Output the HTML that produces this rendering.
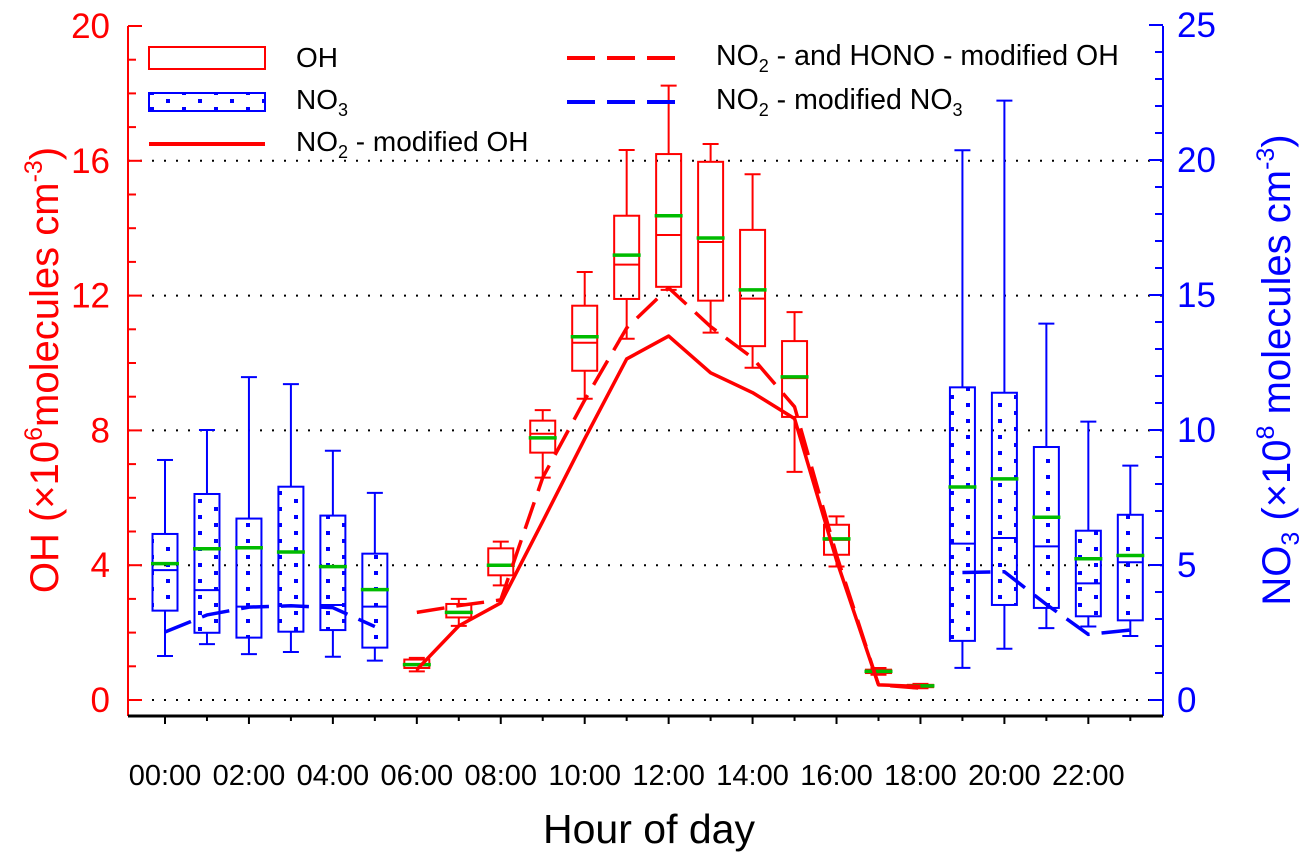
<!DOCTYPE html>
<html><head><meta charset="utf-8"><style>
body{margin:0;background:#fff;}
svg{font-family:"Liberation Sans",sans-serif;display:block;}
</style></head><body>
<svg id="chart" width="1312" height="863" viewBox="0 0 1312 863">
<defs>
<pattern id="dots" width="32" height="16" patternUnits="userSpaceOnUse">
<rect x="6" y="3" width="4" height="4" fill="#0000ff"/><rect x="22" y="11" width="4" height="4" fill="#0000ff"/>
</pattern>
</defs>
<g id="grid"></g>
<g id="marks"></g>
<g id="axes"></g>
<g id="legend">
<rect x="149" y="47" width="116" height="22" fill="none" stroke="#ff0000" stroke-width="2"/>
<text x="296" y="67" font-size="28">OH</text>
<rect x="149" y="93" width="116" height="18" fill="url(#dots)" stroke="#0000ff" stroke-width="2"/>
<text x="296" y="109" font-size="28">NO<tspan font-size="18" dy="7">3</tspan></text>
<line x1="149" y1="144" x2="265" y2="144" stroke="#ff0000" stroke-width="4"/>
<text x="296" y="151" font-size="28">NO<tspan font-size="18" dy="7">2</tspan><tspan dy="-7"> - modified OH</tspan></text>
<line x1="567" y1="58" x2="682" y2="58" stroke="#ff0000" stroke-width="4" stroke-dasharray="28,12"/>
<text x="716" y="65" font-size="28.5">NO<tspan font-size="18" dy="7">2</tspan><tspan dy="-7"> - and HONO - modified OH</tspan></text>
<line x1="567" y1="102" x2="682" y2="102" stroke="#0000ff" stroke-width="4" stroke-dasharray="28,12"/>
<text x="716" y="109" font-size="28.5">NO<tspan font-size="18" dy="7">2</tspan><tspan dy="-7"> - modified NO</tspan><tspan font-size="18" dy="7">3</tspan></text>
</g>
<text x="649" y="843" font-size="41" text-anchor="middle">Hour of day</text>
<text transform="translate(58,370) rotate(-90)" font-size="40" fill="#ff0000" text-anchor="middle">OH (×10<tspan font-size="25" dy="-16">6</tspan><tspan dy="16">molecules cm</tspan><tspan font-size="25" dy="-16">-3</tspan><tspan dy="16">)</tspan></text>
<text transform="translate(1290,370) rotate(-90)" font-size="40" fill="#0000ff" text-anchor="middle">NO<tspan font-size="25" dy="9">3</tspan><tspan dy="-9"> (×10</tspan><tspan font-size="25" dy="-16">8</tspan><tspan dy="16"> molecules cm</tspan><tspan font-size="25" dy="-16">-3</tspan><tspan dy="16">)</tspan></text>
</svg>
<script>
// OH boxes (left axis, 1e6)
const ohHours=[6,7,8,9,10,11,12,13,14,15,16,17,18];
const ohWhiskTop=[1.25,3.0,4.7,8.6,12.7,16.32,18.23,16.5,15.6,11.51,5.45,0.95,0.48];
const ohQ3=[1.2,2.85,4.5,8.29,11.7,14.37,16.2,15.97,13.95,10.65,5.2,0.9,0.45];
const ohMedian=[1.05,2.6,4.0,7.9,10.6,12.92,13.8,13.59,11.91,9.55,4.75,0.85,0.42];
const ohMean=[1.05,2.6,4.0,7.78,10.78,13.2,14.37,13.71,12.17,9.59,4.78,0.85,0.42];
const ohQ1=[0.95,2.45,3.7,7.34,9.77,11.9,12.26,11.85,10.5,8.4,4.31,0.8,0.38];
const ohWhiskBot=[0.85,2.2,3.4,6.6,8.94,10.72,12.17,10.9,9.86,6.77,3.96,0.75,0.35];
// NO3 boxes (right axis, 1e8)
const noHours=[0,1,2,3,4,5,19,20,21,22,23];
const noWhiskTop=[8.89,10.0,11.96,11.7,9.23,7.67,20.36,22.2,13.94,10.31,8.68];
const noQ3=[6.15,7.63,6.72,7.9,6.83,5.42,11.58,11.38,9.37,6.27,6.86];
const noMedian=[4.81,4.07,3.46,3.49,3.52,3.46,5.79,6.0,5.69,4.32,5.1];
const noMean=[5.05,5.6,5.64,5.48,4.94,4.09,7.89,8.19,6.77,5.23,5.35];
const noQ1=[3.31,2.49,2.31,2.53,2.59,1.94,2.19,3.52,3.41,3.1,2.95];
const noWhiskBot=[1.63,2.07,1.7,1.78,1.6,1.46,1.19,1.9,2.66,2.72,2.37];
// Model lines
const lineHours=[6,7,8,9,10,11,12,13,14,15,16,17,18];
const no2OH=[0.9,2.2,2.88,5.3,7.75,10.12,10.8,9.71,9.12,8.35,4.15,0.45,0.4];
const honoOH=[2.6,2.8,2.97,6.6,8.9,11.04,12.23,11.08,10.15,8.7,4.3,0.45,0.35];
const no3Hours1=[0,1,2,3,4,5];
const no3Line1=[2.52,3.15,3.44,3.49,3.42,2.72];
const no3Hours2=[19,20,21,22,23];
const no3Line2=[4.72,4.75,3.54,2.43,2.59];
const leftTicks=[0,4,8,12,16,20];
const rightTicks=[0,5,10,15,20,25];
const xLabels=["00:00","02:00","04:00","06:00","08:00","10:00","12:00","14:00","16:00","18:00","20:00","22:00"];

const NS="http://www.w3.org/2000/svg";
const X0=128,X1=1163,YB=700,YT=26;
const xs=h=>165+41.97*h;
const yl=v=>YB-(YB-YT)*v/20;
const yr=v=>YB-(YB-25)*v/25;
function mk(parent,tag,attrs){const e=document.createElementNS(NS,tag);for(const k in attrs)e.setAttribute(k,attrs[k]);parent.appendChild(e);return e;}
const grid=document.getElementById('grid'),marks=document.getElementById('marks'),axes=document.getElementById('axes');

leftTicks.slice(0,5).forEach(v=>{
 const g=mk(grid,'line',{x1:X0,x2:X1,y1:yl(v),y2:yl(v),stroke:'#000','stroke-width':2,'stroke-dasharray':'2,10'});
 
 
});

function box(h,wt,q3,md,mn,q1,wb,yf,col,fill,name){
 const g=mk(marks,'g',{});
 
 
 const cx=xs(h),w=25;
 mk(g,'line',{x1:cx,x2:cx,y1:yf(wt),y2:yf(q3),stroke:col,'stroke-width':2});
 mk(g,'line',{x1:cx,x2:cx,y1:yf(q1),y2:yf(wb),stroke:col,'stroke-width':2});
 mk(g,'line',{x1:cx-8,x2:cx+8,y1:yf(wt),y2:yf(wt),stroke:col,'stroke-width':2});
 mk(g,'line',{x1:cx-8,x2:cx+8,y1:yf(wb),y2:yf(wb),stroke:col,'stroke-width':2});
 mk(g,'rect',{x:cx-w/2,y:yf(q3),width:w,height:Math.max(1,yf(q1)-yf(q3)),fill:fill,stroke:col,'stroke-width':2});
 mk(g,'line',{x1:cx-w/2,x2:cx+w/2,y1:yf(md),y2:yf(md),stroke:col,'stroke-width':2});
 mk(g,'line',{x1:cx-14,x2:cx+14,y1:yf(mn),y2:yf(mn),stroke:'#00bb00','stroke-width':3.5});
}
ohHours.forEach((h,i)=>box(h,ohWhiskTop[i],ohQ3[i],ohMedian[i],ohMean[i],ohQ1[i],ohWhiskBot[i],yl,'#ff0000','none','oh-box-'+h));
noHours.forEach((h,i)=>box(h,noWhiskTop[i],noQ3[i],noMedian[i],noMean[i],noQ1[i],noWhiskBot[i],yr,'#0000ff','url(#dots)','no3-box-'+h));

function line(hs,vs,yf,col,dash,name){
 const p=mk(marks,'polyline',{points:hs.map((h,i)=>xs(h)+','+yf(vs[i])).join(' '),fill:'none',stroke:col,'stroke-width':3.5,'stroke-linejoin':'round'});
 if(dash)p.setAttribute('stroke-dasharray',dash);
 
 
}
line(lineHours,no2OH,yl,'#ff0000',null,'no2-modified-oh-line');
line(lineHours,honoOH,yl,'#ff0000','28,12','no2-hono-modified-oh-line');
line(no3Hours1,no3Line1,yr,'#0000ff','28,12','no2-modified-no3-line-night1');
line(no3Hours2,no3Line2,yr,'#0000ff','28,12','no2-modified-no3-line-night2');

// axes
mk(axes,'line',{x1:X0,x2:X0,y1:YT,y2:716,stroke:'#ff0000','stroke-width':2});
mk(axes,'line',{x1:X1,x2:X1,y1:YT,y2:716,stroke:'#0000ff','stroke-width':2});
mk(axes,'line',{x1:X0,x2:X1,y1:716,y2:716,stroke:'#000','stroke-width':3});
for(let v=0;v<=20;v++){const maj=v%4===0;mk(axes,'line',{x1:X0,x2:X0+(maj?14:8),y1:yl(v),y2:yl(v),stroke:'#ff0000','stroke-width':2});}
for(let v=0;v<=25;v++){const maj=v%5===0;mk(axes,'line',{x1:X1,x2:X1-(maj?14:8),y1:yr(v),y2:yr(v),stroke:'#0000ff','stroke-width':2});}
leftTicks.forEach(v=>{const t=mk(axes,'text',{x:110,y:yl(v)+12,'font-size':35,fill:'#ff0000','text-anchor':'end'});t.textContent=v;
 
 });
rightTicks.forEach(v=>{const t=mk(axes,'text',{x:1177,y:yr(v)+12,'font-size':35,fill:'#0000ff'});t.textContent=v;
 
 });
for(let h=0;h<24;h++)mk(axes,'line',{x1:xs(h),x2:xs(h),y1:716,y2:h%2===0?724:721,stroke:'#000','stroke-width':2});
xLabels.forEach((s,i)=>{const t=mk(axes,'text',{x:xs(i*2),y:785,'font-size':29,'text-anchor':'middle'});t.textContent=s;
 
 });
</script>
</body></html>
